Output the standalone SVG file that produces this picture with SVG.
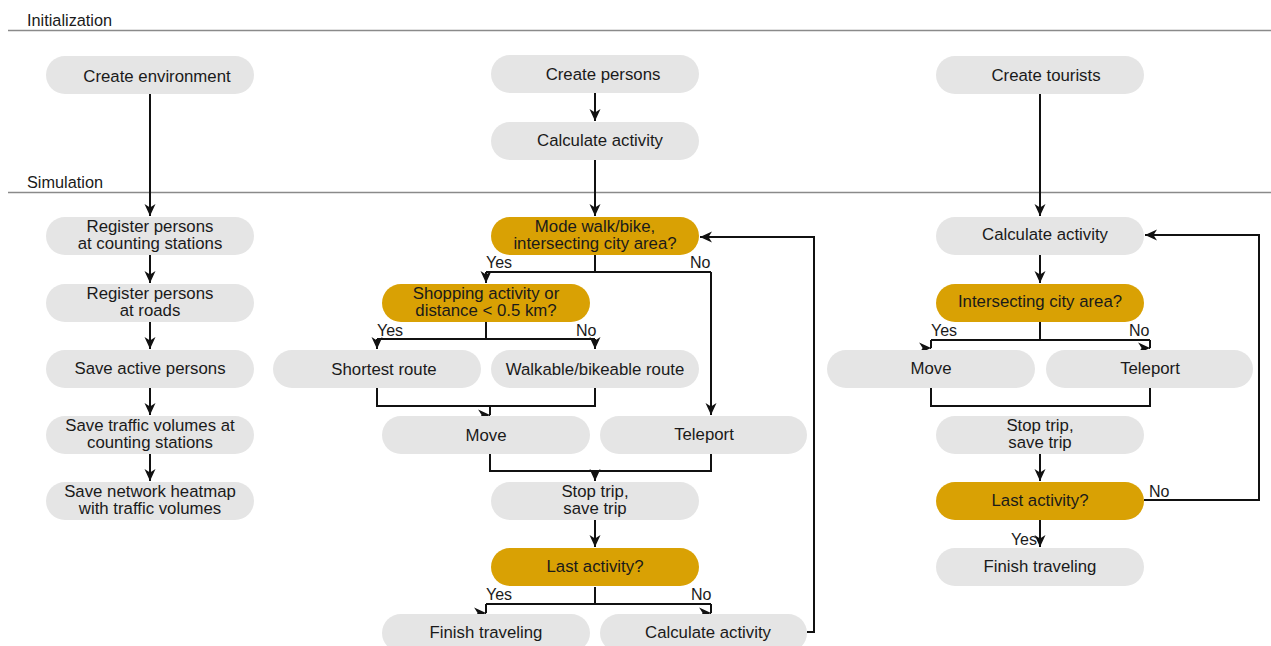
<svg xmlns="http://www.w3.org/2000/svg" width="1271" height="646" viewBox="0 0 1271 646">
<defs>
<marker id="ah" markerUnits="userSpaceOnUse" markerWidth="13" markerHeight="13" viewBox="0 0 13 13" refX="12" refY="6.5" orient="auto">
<path d="M0,1 L12,6.5 L0,12 L3.5,6.5 z" fill="#111"/>
</marker>
<style>
.n rect{fill:#e5e5e5}
.d rect{fill:#d9a104}
text{font-family:"Liberation Sans",Arial,Helvetica,sans-serif;font-size:16.8px;fill:#1a1a1a}
.n text,.d text{text-anchor:middle}
.lbl{font-size:16px}
.sec{font-size:16.3px}
#connectors path{fill:none;stroke:#111;stroke-width:2}
.arr{marker-end:url(#ah)}
.sep{stroke:#8a8a8a;stroke-width:1.3}
</style>
</defs>
<rect width="1271" height="646" fill="#fff"/>
<g id="sections">
<text class="sec" x="27" y="26">Initialization</text>
<line class="sep" x1="8" y1="30.5" x2="1271" y2="30.5"/>
<text class="sec" x="27" y="188">Simulation</text>
<line class="sep" x1="8" y1="192.5" x2="1271" y2="192.5"/>
</g>
<g id="connectors">
<path class="arr" d="M150 94 V216"/>
<path class="arr" d="M150 255 V283"/>
<path class="arr" d="M150 322 V349"/>
<path class="arr" d="M150 388 V415"/>
<path class="arr" d="M150 454 V481"/>
<path class="arr" d="M595 93 V121"/>
<path class="arr" d="M595 160 V216"/>
<path d="M595 255 V272 M486 272 H711"/>
<path class="arr" d="M486 272 V283"/>
<path class="arr" d="M711 272 V415"/>
<path d="M486 322 V339 M377 339 H595"/>
<path class="arr" d="M377 339 V349"/>
<path class="arr" d="M595 339 V349"/>
<path d="M377 388 V406 H595 V388"/>
<path class="arr" d="M490 406 V415 h0.1"/>
<path d="M490 454 V471 H711 V454"/>
<path class="arr" d="M595 471 V481"/>
<path class="arr" d="M595 520 V547"/>
<path d="M595 587 V604 M486 604 H711"/>
<path class="arr" d="M486 604 V613 h0.1"/>
<path class="arr" d="M711 604 V613 h0.1"/>
<path class="arr" d="M807 632 H814 V237 H700"/>
<path class="arr" d="M1040 94 V216"/>
<path class="arr" d="M1040 255 V283"/>
<path d="M1040 322 V340 M931 340 H1150"/>
<path class="arr" d="M931 340 V348 h0.1"/>
<path class="arr" d="M1150 340 V348 h0.1"/>
<path d="M931 388 V406 H1150 V388"/>
<path class="arr" d="M1040 454 V481"/>
<path class="arr" d="M1144 500 H1259 V235 H1145"/>
<path class="arr" d="M1040 520 V547"/>
</g>
<g id="labels">
<text class="lbl" x="486" y="268">Yes</text>
<text class="lbl" x="690" y="268">No</text>
<text class="lbl" x="377" y="336">Yes</text>
<text class="lbl" x="576" y="336">No</text>
<text class="lbl" x="931" y="336">Yes</text>
<text class="lbl" x="1129" y="336">No</text>
<text class="lbl" x="486" y="600">Yes</text>
<text class="lbl" x="691" y="600">No</text>
<text class="lbl" x="1149" y="497">No</text>
<text class="lbl" x="1037" y="545" text-anchor="end">Yes</text>
</g>
<g id="create-environment" class="n"><rect x="46" y="56" width="208" height="38" rx="19"/><text x="157" y="81.5">Create environment</text></g>
<g id="register-counting" class="n"><rect x="46" y="217" width="208" height="38" rx="19"/><text x="150" y="232">Register persons</text><text x="150" y="248.5">at counting stations</text></g>
<g id="register-roads" class="n"><rect x="46" y="284" width="208" height="38" rx="19"/><text x="150" y="299">Register persons</text><text x="150" y="315.5">at roads</text></g>
<g id="save-active" class="n"><rect x="46" y="350" width="208" height="38" rx="19"/><text x="150" y="373.5">Save active persons</text></g>
<g id="save-traffic" class="n"><rect x="46" y="416" width="208" height="38" rx="19"/><text x="150" y="431">Save traffic volumes at</text><text x="150" y="447.5">counting stations</text></g>
<g id="save-heatmap" class="n"><rect x="46" y="482" width="208" height="38" rx="19"/><text x="150" y="497">Save network heatmap</text><text x="150" y="513.5">with traffic volumes</text></g>
<g id="create-persons" class="n"><rect x="491" y="55" width="208" height="38" rx="19"/><text x="603" y="79.5">Create persons</text></g>
<g id="calc-activity-p" class="n"><rect x="491" y="122" width="208" height="38" rx="19"/><text x="600" y="146">Calculate activity</text></g>
<g id="mode-walk" class="d"><rect x="491" y="217" width="208" height="38" rx="19"/><text x="595" y="232">Mode walk/bike,</text><text x="595" y="248.5">intersecting city area?</text></g>
<g id="shopping" class="d"><rect x="382" y="284" width="208" height="38" rx="19"/><text x="486" y="299">Shopping activity or</text><text x="486" y="315.5">distance &lt; 0.5 km?</text></g>
<g id="shortest-route" class="n"><rect x="273" y="350" width="208" height="38" rx="19"/><text x="384" y="375">Shortest route</text></g>
<g id="walkable-route" class="n"><rect x="491" y="350" width="208" height="38" rx="19"/><text x="595" y="375">Walkable/bikeable route</text></g>
<g id="move-p" class="n"><rect x="382" y="416" width="208" height="38" rx="19"/><text x="486" y="441">Move</text></g>
<g id="teleport-p" class="n"><rect x="600" y="416" width="207" height="38" rx="19"/><text x="704" y="440">Teleport</text></g>
<g id="stop-trip-p" class="n"><rect x="491" y="482" width="208" height="38" rx="19"/><text x="595" y="497">Stop trip,</text><text x="595" y="513.5">save trip</text></g>
<g id="last-activity-p" class="d"><rect x="491" y="548" width="208" height="38" rx="19"/><text x="595" y="572">Last activity?</text></g>
<g id="finish-p" class="n"><rect x="382" y="614" width="208" height="38" rx="19"/><text x="486" y="638">Finish traveling</text></g>
<g id="calc-activity-p2" class="n"><rect x="600" y="614" width="207" height="38" rx="19"/><text x="708" y="638">Calculate activity</text></g>
<g id="create-tourists" class="n"><rect x="936" y="56" width="208" height="38" rx="19"/><text x="1046" y="81">Create tourists</text></g>
<g id="calc-activity-t" class="n"><rect x="936" y="217" width="208" height="38" rx="19"/><text x="1045" y="240">Calculate activity</text></g>
<g id="intersecting" class="d"><rect x="936" y="284" width="208" height="38" rx="19"/><text x="1040" y="307">Intersecting city area?</text></g>
<g id="move-t" class="n"><rect x="827" y="350" width="208" height="38" rx="19"/><text x="931" y="374">Move</text></g>
<g id="teleport-t" class="n"><rect x="1046" y="350" width="207" height="38" rx="19"/><text x="1150" y="374">Teleport</text></g>
<g id="stop-trip-t" class="n"><rect x="936" y="416" width="208" height="38" rx="19"/><text x="1040" y="431">Stop trip,</text><text x="1040" y="447.5">save trip</text></g>
<g id="last-activity-t" class="d"><rect x="936" y="482" width="208" height="38" rx="19"/><text x="1040" y="506">Last activity?</text></g>
<g id="finish-t" class="n"><rect x="936" y="548" width="208" height="38" rx="19"/><text x="1040" y="572">Finish traveling</text></g>
</svg>
